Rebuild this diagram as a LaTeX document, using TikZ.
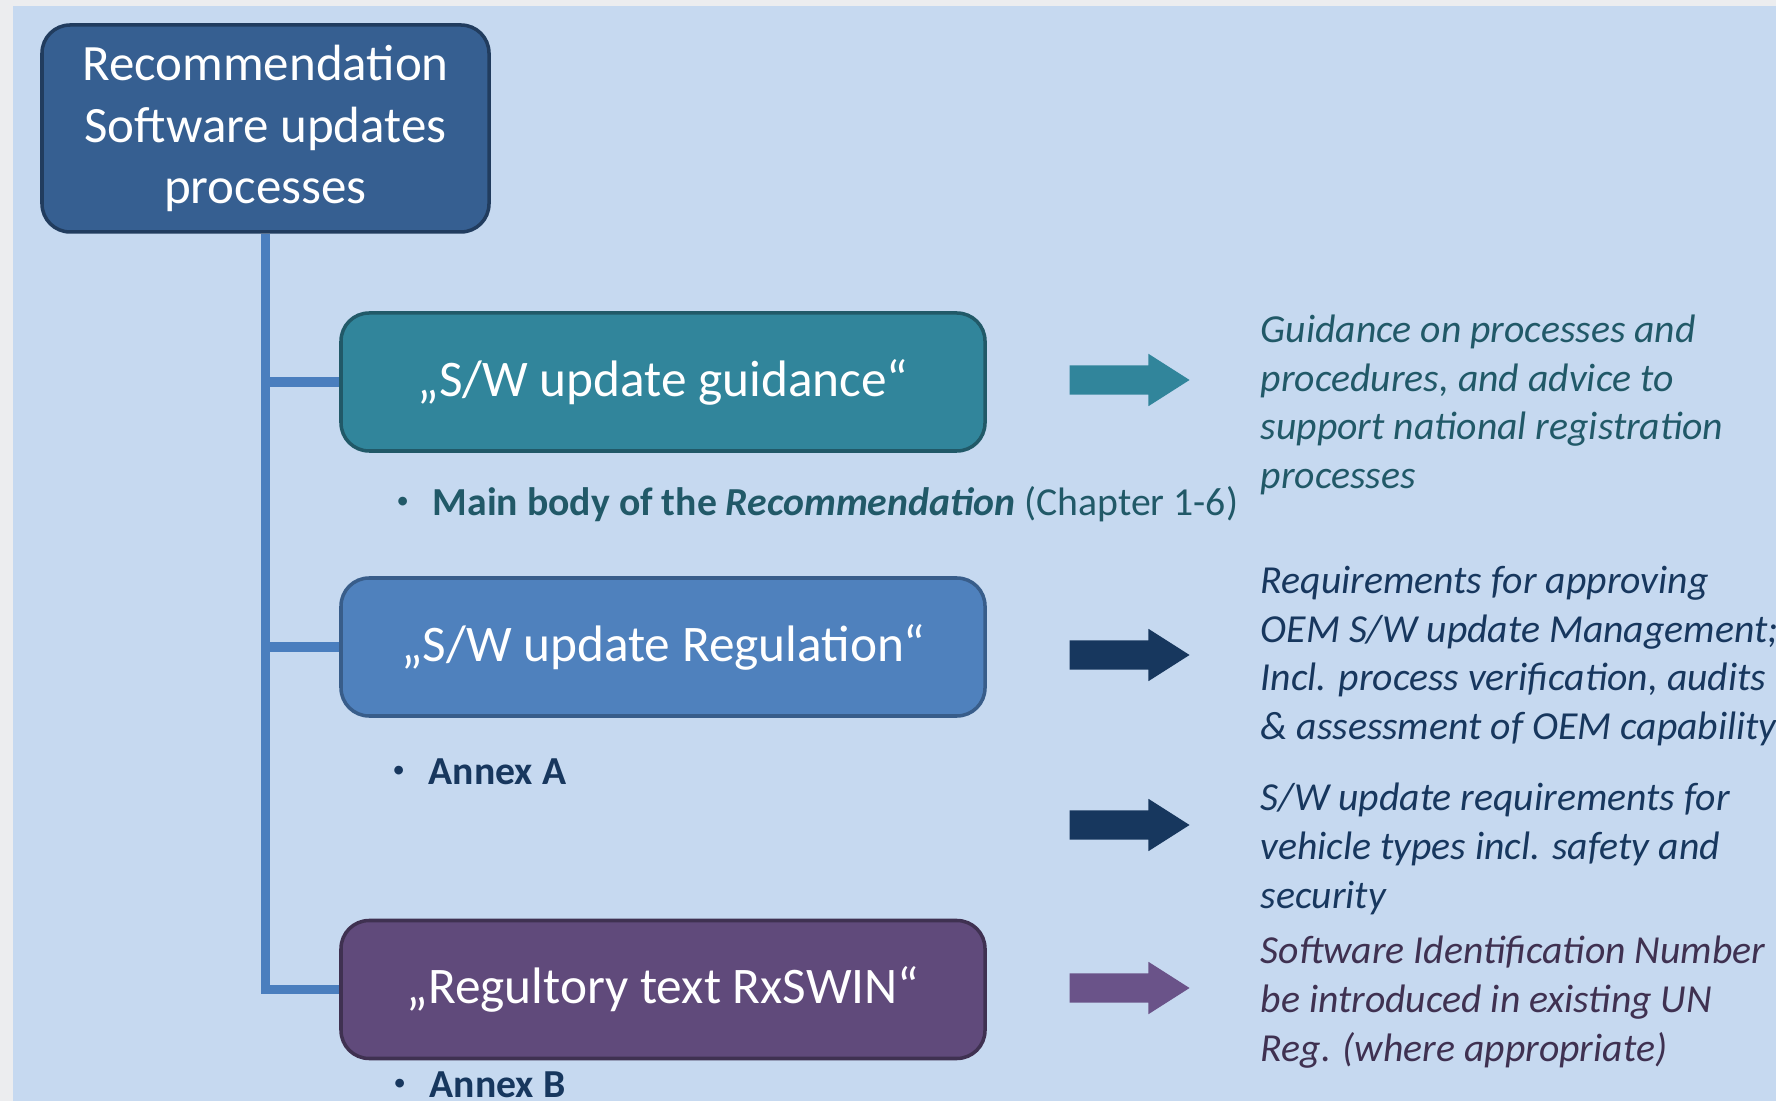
\documentclass[tikz,border=0pt]{standalone}
\usepackage{fontspec}
\setmainfont{Carlito}
\usepackage{tikz}
\usetikzlibrary{shapes.arrows,positioning}

\definecolor{pageGray}{RGB}{236,237,239}
\definecolor{slideBlue}{RGB}{198,217,240}
\definecolor{rootBlue}{RGB}{54,95,145}
\definecolor{rootLine}{RGB}{33,60,94}
\definecolor{swTeal}{RGB}{49,133,155}
\definecolor{swTealDark}{RGB}{33,89,104}
\definecolor{swBlue}{RGB}{79,129,189}
\definecolor{swBlueLine}{RGB}{56,93,138}
\definecolor{swPurple}{RGB}{96,74,123}
\definecolor{swPurpleDark}{RGB}{63,49,81}
\definecolor{swPurpleArrow}{RGB}{106,83,137}
\definecolor{swNavy}{RGB}{23,55,94}
\definecolor{treeBlue}{RGB}{74,126,190}

\newcommand{\smallbullet}{\raisebox{0.18em}{\fontsize{7}{7}\selectfont\textbullet}\hspace{0.6em}}

\tikzset{
  rootbox/.style={draw=rootLine, fill=rootBlue, line width=1pt,
    rounded corners=8pt, text=white, align=center, inner sep=0pt,
    minimum width=4.47cm, minimum height=2.07cm,
    font=\fontsize{14.5}{17.6}\selectfont},
  subbox/.style 2 args={draw=#2, fill=#1, line width=1pt,
    rounded corners=8pt, text=white, align=center, inner sep=0pt,
    minimum width=6.44cm, minimum height=1.38cm,
    font=\fontsize{14.6}{17.6}\selectfont},
  treeline/.style={draw=treeBlue, line width=2.8pt},
  blockarrow/.style={single arrow, fill=#1, draw=none,
    inner xsep=0pt, inner ysep=0.14cm, minimum height=1.2cm,
    single arrow head extend=0.115cm, single arrow tip angle=65},
  desc/.style={text=#1, align=left, inner sep=0pt, anchor=west,
    font=\fontsize{11.3}{13.85}\selectfont\itshape},
  bulletnote/.style={text=#1, inner sep=0pt, anchor=west,
    font=\fontsize{11.3}{13.5}\selectfont}
}

\begin{document}
\begin{tikzpicture}
  % Slide background
  \fill[pageGray] (0,0) rectangle (17.76,-11.01);
  \fill[slideBlue] (0.13,-0.06) rectangle (17.76,-11.01);
  \useasboundingbox (0,0) rectangle (17.76,-11.01);

  % Boxes
  \node[rootbox] (rec) at (2.655,-1.285) {Recommendation\\Software updates\\processes};
  \node[subbox={swTeal}{swTealDark}] (gui) at (6.63,-3.82) {„S/W update guidance“};
  \node[subbox={swBlue}{swBlueLine}] (reg) at (6.63,-6.47) {„S/W update Regulation“};
  \node[subbox={swPurple}{swPurpleDark}] (rxs) at (6.63,-9.895) {„Regultory text RxSWIN“};

  % Tree
  \draw[treeline] (rec.south) |- (rxs.west);
  \draw[treeline] (rec.south |- gui.west) -- (gui.west);
  \draw[treeline] (rec.south |- reg.west) -- (reg.west);

  % Bullets under boxes
  \node[bulletnote=swTealDark] (bGui) at (3.96,-5.04)
    {\smallbullet\textbf{Main body of the \textit{Recommendation}} (Chapter 1-6)};
  \node[bulletnote=swNavy] (bReg) at (3.92,-7.72) {\smallbullet\textbf{Annex A}};
  \node[bulletnote=swNavy] (bRxs) at (3.93,-10.85) {\smallbullet\textbf{Annex B}};

  % Block arrows
  \node[blockarrow=swTeal] (arGui) at (11.18,-3.80) {};
  \node[blockarrow=swNavy] (arMan) at (11.18,-6.55) {};
  \node[blockarrow=swNavy] (arVeh) at (11.18,-8.25) {};
  \node[blockarrow=swPurpleArrow] (arRxs) at (11.18,-9.88) {};

  % Descriptions
  \node[desc=swTealDark] (dGui) at (12.60,-4.05)
    {Guidance on processes and\\procedures, and advice to\\support national registration\\processes};
  \node[desc=swNavy] (dMan) at (12.60,-6.56)
    {Requirements for approving\\OEM S/W update Management;\\Incl. process verification, audits\\\& assessment of OEM capability};
  \node[desc=swNavy] (dVeh) at (12.60,-8.49)
    {S/W update requirements for\\vehicle types incl. safety and\\security};
  \node[desc=swPurpleDark] (dRxs) at (12.60,-10.02)
    {Software Identification Number\\be introduced in existing UN\\Reg. (where appropriate)};
\end{tikzpicture}
\end{document}
